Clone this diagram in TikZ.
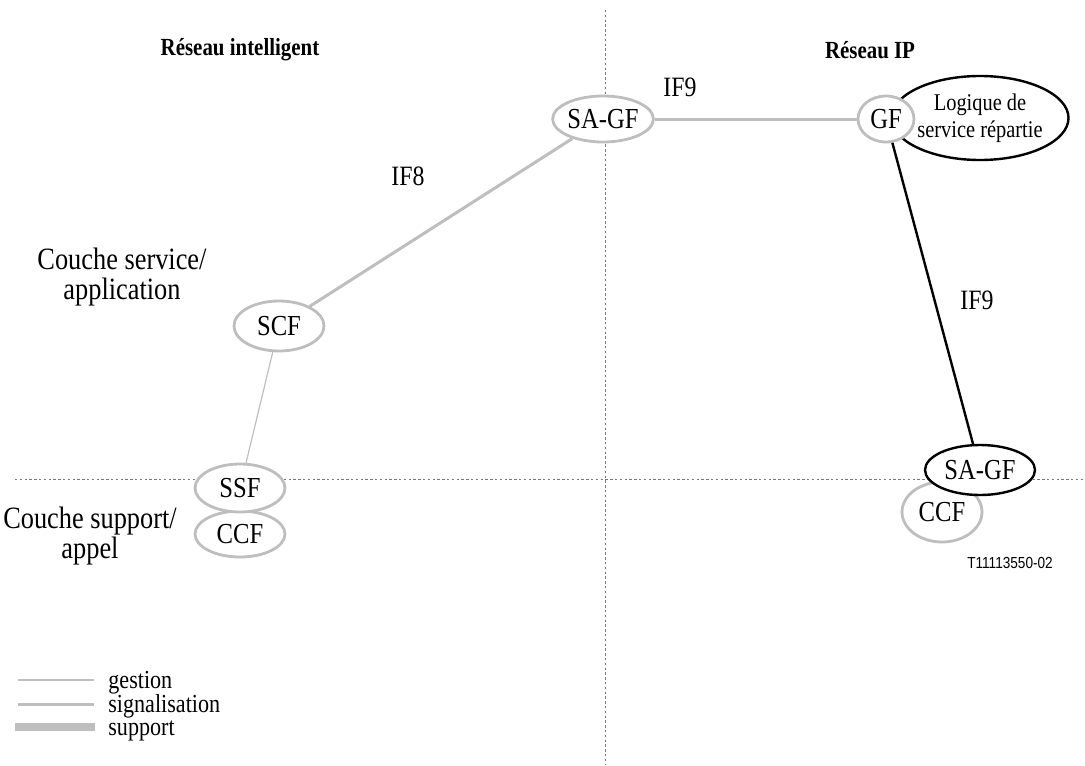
\documentclass[tikz,border=0pt]{standalone}
\usepackage{fontspec}
\setmainfont[FakeStretch=0.85]{Liberation Serif}
\setsansfont[FakeStretch=0.85]{Liberation Sans}
\usetikzlibrary{shapes.geometric}
\definecolor{lgray}{RGB}{190,190,190}
\definecolor{dgray}{RGB}{120,120,120}
\begin{document}
\begin{tikzpicture}[x=0.5pt,y=-0.5pt,
  fn/.style={ellipse,draw=lgray,line width=1.4pt,fill=white,inner sep=0pt,
    font=\fontsize{14.5}{16}\selectfont},
  fnb/.style={fn,draw=black,line width=1.2pt},
  sep/.style={draw=dgray,line width=0.5pt,dash pattern=on 1.2pt off 1.2pt},
  gestion/.style={draw=lgray,line width=0.6pt},
  signal/.style={draw=lgray,line width=1.5pt},
  supp/.style={draw=lgray,line width=4pt},
  lbl/.style={font=\fontsize{14}{16}\selectfont},
  layer/.style={align=center,font=\fontsize{15.5}{15}\selectfont},
  title/.style={font=\bfseries\fontsize{12.3}{14}\selectfont},
  legtxt/.style={anchor=base west,font=\fontsize{13}{12}\selectfont,inner sep=0pt}]
\useasboundingbox (0,0) rectangle (1085,765);

% quadrant separators
\coordinate (vt) at (605,10);
\coordinate (vb) at (605,765);
\coordinate (hl) at (15,479);
\coordinate (hr) at (1085,479);
\draw[sep] (vt) -- (vb);
\draw[sep] (hl) -- (hr);

% titles and layer labels
\node[title] (t1) at (240,50) {Réseau intelligent};
\node[title] (t2) at (870,50) {Réseau IP};
\node[layer] (ls) at (122,277) {Couche service/\\application};
\node[layer] (lb) at (90,536) {Couche support/\\appel};

% functional entities
\node[fnb,minimum width=63pt,minimum height=42pt,align=center,
  font=\fontsize{12}{13.5}\selectfont] (dsl) at (980,118) {Logique de\\service répartie};
\node[fn,minimum width=44pt,minimum height=23pt] (sagf) at (603,119) {SA-GF};
\node[fn,minimum width=28pt,minimum height=23pt] (gf) at (886,119) {GF};
\node[fn,minimum width=45pt,minimum height=25pt] (scf) at (279,326) {SCF};
\node[fn,minimum width=45pt,minimum height=23pt] (ccfl) at (240,534) {CCF};
\node[fn,minimum width=45pt,minimum height=24pt] (ssf) at (240,488) {SSF};
\node[fn,minimum width=40pt,minimum height=30pt] (ccfr) at (942,512) {CCF};
\node[fnb,minimum width=55pt,minimum height=25pt] (sagfr) at (980,470) {SA-GF};

% interfaces
\draw[signal] (sagf) -- (scf);
\draw[signal] (sagf) -- (gf);
\draw[gestion] (scf) -- (ssf);
\draw[black,line width=1.2pt] (gf) -- (sagfr);

\node[lbl] (if8) at (408,176) {IF8};
\node[lbl] (if9a) at (680,87) {IF9};
\node[lbl] (if9b) at (977,300) {IF9};

\node[font=\sffamily\fontsize{8}{9}\selectfont] (ref) at (1010,563) {T11113550-02};

% legend
\coordinate (g1) at (18,680);  \coordinate (g2) at (94,680);
\coordinate (s1) at (18,704);  \coordinate (s2) at (94,704);
\coordinate (p1) at (15,727);  \coordinate (p2) at (95,727);
\draw[gestion] (g1) -- (g2);
\draw[signal] (s1) -- (s2);
\draw[supp] (p1) -- (p2);
\node[legtxt] (lg) at (108,688) {gestion};
\node[legtxt] (ls2) at (108,712) {signalisation};
\node[legtxt] (lp) at (108,735) {support};
\end{tikzpicture}
\end{document}
